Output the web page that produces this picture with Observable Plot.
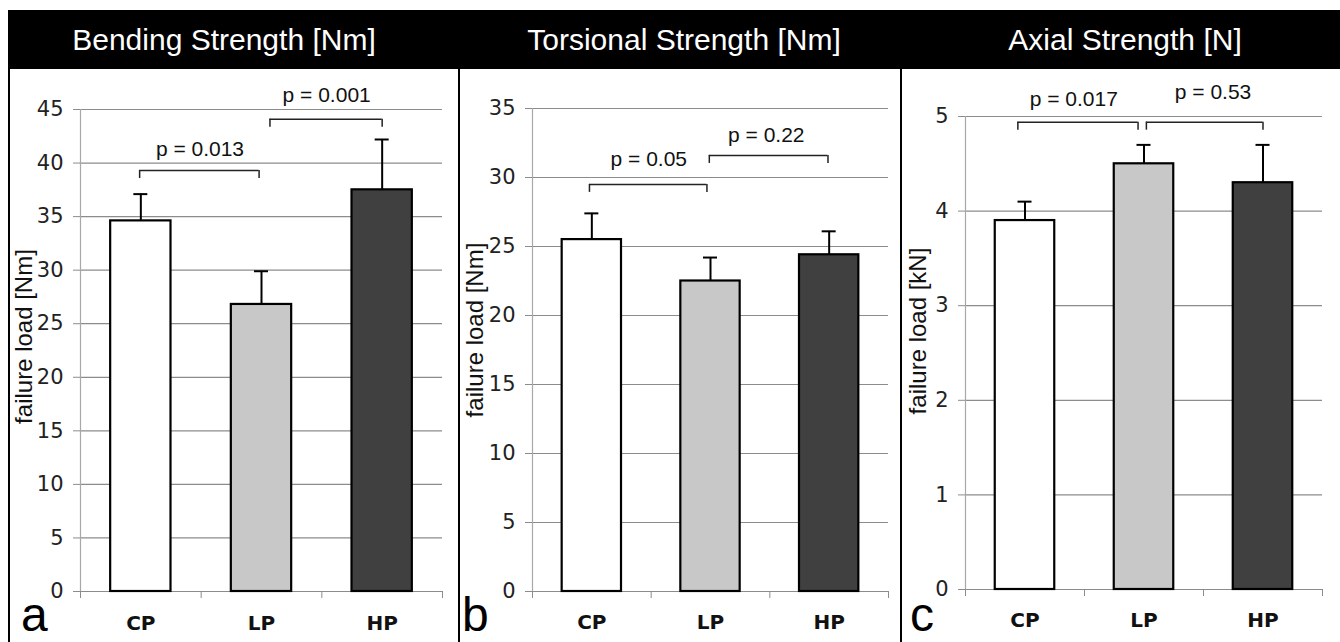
<!DOCTYPE html>
<html>
<head>
<meta charset="utf-8">
<script src="https://cdn.jsdelivr.net/npm/d3@7"></script>
<script src="https://cdn.jsdelivr.net/npm/@observablehq/plot@0.6"></script>
<style>
html, body { margin: 0; padding: 0; background: #fff; }
#page { position: relative; width: 1340px; height: 642px; overflow: hidden; font-family: "Liberation Sans", Arial, sans-serif; }
.header { position: absolute; left: 8px; top: 10px; width: 1332px; height: 59px; background: #000; }
.title { position: absolute; top: 10px; height: 59px; line-height: 59px; color: #fff; font-size: 30px; text-align: center; white-space: nowrap; }
.panel { position: absolute; top: 69px; height: 573px; }
.panel svg { display: block; }
.vline { position: absolute; top: 69px; height: 573px; width: 2px; background: #000; }
.letter { position: absolute; font-size: 48px; line-height: 28px; height: 28px; color: #000; }
</style>
</head>
<body>
<div id="page"></div>
<script>
// ---- data ----
const categories = ["CP", "LP", "HP"];
const panelTitles = ["Bending Strength [Nm]", "Torsional Strength [Nm]", "Axial Strength [N]"];
const yLabels = ["failure load [Nm]", "failure load [Nm]", "failure load [kN]"];
const panelLetters = ["a", "b", "c"];

const bendingMean = [34.6, 26.8, 37.5];
const bendingErr = [2.5, 3.1, 4.7];
const torsionalMean = [25.5, 22.5, 24.4];
const torsionalErr = [1.9, 1.7, 1.7];
const axialMean = [3.9, 4.5, 4.3];
const axialErr = [0.2, 0.2, 0.4];

const bendingTicks = [0, 5, 10, 15, 20, 25, 30, 35, 40, 45];
const torsionalTicks = [0, 5, 10, 15, 20, 25, 30, 35];
const axialTicks = [0, 1, 2, 3, 4, 5];

const barColors = ["#ffffff", "#c8c8c8", "#404040"];

// significance brackets: span along the category axis, bracket level, p label, label position
const bendingBrackets = [
  {from: 0.49, to: 1.48, level: 39.3, p: "p = 0.013", at: 0.99, textLevel: 40.7},
  {from: 1.57, to: 2.50, level: 44.1, p: "p = 0.001", at: 2.04, textLevel: 45.7}
];
const torsionalBrackets = [
  {from: 0.48, to: 1.47, level: 29.5, p: "p = 0.05", at: 0.98, textLevel: 30.8},
  {from: 1.49, to: 2.49, level: 31.6, p: "p = 0.22", at: 1.97, textLevel: 32.6}
];
const axialBrackets = [
  {from: 0.44, to: 1.45, level: 4.94, p: "p = 0.017", at: 0.91, textLevel: 5.11},
  {from: 1.52, to: 2.50, level: 4.94, p: "p = 0.53", at: 2.08, textLevel: 5.18}
];

// ---- layout ----
const page = document.getElementById("page");
const header = document.createElement("div");
header.className = "header";
page.appendChild(header);

const titleBoxes = [[8, 432], [459, 450], [910, 430]];
panelTitles.forEach((t, k) => {
  const d = document.createElement("div");
  d.className = "title";
  d.style.left = titleBoxes[k][0] + "px";
  d.style.width = titleBoxes[k][1] + "px";
  d.textContent = t;
  page.appendChild(d);
});

const panels = [
  {left: 10, width: 449, ml: 70, mr: 17, mt: 40, mb: 51, max: 45, ticks: bendingTicks, mean: bendingMean, err: bendingErr, brackets: bendingBrackets, labelDx: -56, labelDy: -14, catDy: 32, letterLeft: 21},
  {left: 461, width: 440, ml: 71, mr: 13, mt: 39, mb: 51, max: 35, ticks: torsionalTicks, mean: torsionalMean, err: torsionalErr, brackets: torsionalBrackets, labelDx: -57, labelDy: -20, catDy: 31, letterLeft: 462},
  {left: 903, width: 437, ml: 62, mr: 18, mt: 47, mb: 53, max: 5, ticks: axialTicks, mean: axialMean, err: axialErr, brackets: axialBrackets, labelDx: -47, labelDy: -22, catDy: 31, letterLeft: 910}
];

function makePanel(cfg, k) {
  const rows = categories.map((c, i) => ({cat: c, i, mean: cfg.mean[i], err: cfg.err[i], color: barColors[i]}));
  const legs = cfg.brackets.flatMap(b => [{x: b.from, level: b.level}, {x: b.to, level: b.level}]);
  return Plot.plot({
    width: cfg.width,
    height: 573,
    marginLeft: cfg.ml,
    marginRight: cfg.mr,
    marginTop: cfg.mt,
    marginBottom: cfg.mb,
    x: {domain: [0, 3], axis: null},
    y: {domain: [0, cfg.max], axis: null},
    color: {type: "identity"},
    style: {fontFamily: "DejaVu Sans", background: "transparent", overflow: "visible"},
    marks: [
      Plot.gridY(cfg.ticks, {stroke: "#8c8c8c", strokeOpacity: 1, strokeWidth: 1.2}),
      Plot.ruleX([0], {stroke: "#a8a8a8", strokeWidth: 1.2}),
      Plot.axisY(cfg.ticks, {tickSize: 7, tickPadding: 10, fontSize: 21, stroke: "#8c8c8c", fill: "#222", label: null, tickFormat: d => String(d)}),
      Plot.axisX([0, 1, 2, 3], {tickSize: 7, tickFormat: () => "", stroke: "#8c8c8c", label: null}),
      Plot.rectY(rows, {x1: d => d.i + 0.25, x2: d => d.i + 0.75, y1: 0, y2: "mean", fill: "color", stroke: "#000", strokeWidth: 2.2}),
      Plot.ruleX(rows, {x: d => d.i + 0.5, y1: "mean", y2: d => d.mean + d.err, stroke: "#000", strokeWidth: 2}),
      Plot.ruleY(rows, {y: d => d.mean + d.err, x1: d => d.i + 0.5, x2: d => d.i + 0.5, insetLeft: -7, insetRight: -7, stroke: "#000", strokeWidth: 2}),
      Plot.ruleY(cfg.brackets, {y: "level", x1: "from", x2: "to", stroke: "#222", strokeWidth: 1.5}),
      Plot.ruleX(legs, {x: "x", y1: "level", y2: "level", insetBottom: -8, stroke: "#222", strokeWidth: 1.5}),
      Plot.text(cfg.brackets, {x: "at", y: "textLevel", text: "p", fontFamily: "Liberation Sans", fontSize: 21, fill: "#111", lineAnchor: "bottom"}),
      Plot.text(rows, {x: d => d.i + 0.5, text: "cat", frameAnchor: "bottom", dy: cfg.catDy, lineAnchor: "middle", fontWeight: "bold", fontSize: 20, fill: "#111"}),
      Plot.text([yLabels[k]], {frameAnchor: "left", textAnchor: "middle", rotate: -90, dx: cfg.labelDx, dy: cfg.labelDy, fontFamily: "Liberation Sans", fontSize: 24, fill: "#111"})
    ]
  });
}

panels.forEach((cfg, k) => {
  const holder = document.createElement("div");
  holder.className = "panel";
  holder.style.left = cfg.left + "px";
  holder.style.width = cfg.width + "px";
  holder.appendChild(makePanel(cfg, k));
  page.appendChild(holder);

  const letter = document.createElement("div");
  letter.className = "letter";
  letter.style.left = cfg.letterLeft + "px";
  letter.style.top = "601px";
  letter.textContent = panelLetters[k];
  page.appendChild(letter);
});

[8, 458, 900].forEach(x => {
  const v = document.createElement("div");
  v.className = "vline";
  v.style.left = x + "px";
  page.appendChild(v);
});
</script>
</body>
</html>
